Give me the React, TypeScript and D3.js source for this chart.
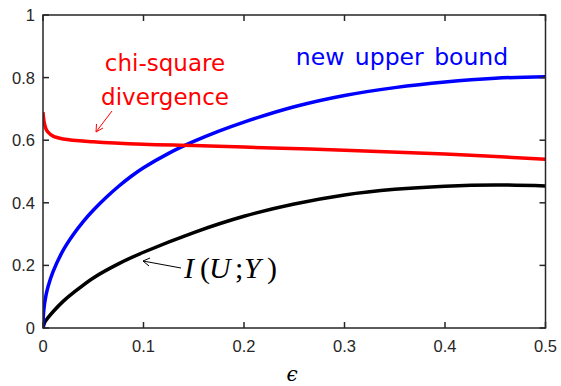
import React from "react";
import * as d3 from "d3";

const W = 561;
const H = 386;

const epsBlack = [0, 0.002, 0.005, 0.01, 0.02, 0.03, 0.05, 0.075, 0.1, 0.15, 0.2, 0.25, 0.3, 0.35, 0.4, 0.45, 0.5];
const mutualInfo = [0, 0.02, 0.033, 0.052, 0.085, 0.112, 0.16, 0.205, 0.242, 0.305, 0.357, 0.396, 0.425, 0.443, 0.453, 0.457, 0.454];

const epsBlue = [0, 0.0002, 0.001, 0.003, 0.005, 0.01, 0.02, 0.03, 0.04, 0.05, 0.0625, 0.075, 0.0875, 0.1, 0.125, 0.15, 0.175, 0.2, 0.25, 0.3, 0.35, 0.4, 0.45, 0.5];
const upperBound = [0, 0.031, 0.064, 0.105, 0.132, 0.18, 0.248, 0.298, 0.34, 0.376, 0.416, 0.452, 0.484, 0.512, 0.558, 0.596, 0.629, 0.658, 0.707, 0.743, 0.768, 0.786, 0.798, 0.803];

const epsRed = [0, 0.0005, 0.0015, 0.003, 0.005, 0.01, 0.02, 0.05, 0.1, 0.15, 0.2, 0.3, 0.4, 0.5];
const chiSquare = [0.69, 0.672, 0.652, 0.636, 0.626, 0.613, 0.604, 0.595, 0.587, 0.583, 0.578, 0.568, 0.556, 0.539];

const xTicks = [0, 0.1, 0.2, 0.3, 0.4, 0.5];
const yTicks = [0, 0.2, 0.4, 0.6, 0.8, 1];

const AX = "#262626";

export default function App() {
  const x = d3.scaleLinear().domain([0, 0.5]).range([43, 545.5]);
  const y = d3.scaleLinear().domain([0, 1]).range([328, 15]);

  const line = (xs: number[], ys: number[]) =>
    d3
      .line<number>()
      .x((_, i) => x(xs[i]))
      .y((d) => y(d))
      .curve(d3.curveCatmullRom.alpha(0.5))(ys) || "";

  const [x0, x1] = x.range();
  const [y0, y1] = y.range();
  const tickLen = 6;
  const tickFont = "'Liberation Sans', Arial, sans-serif";
  const labelFont = "'DejaVu Sans', sans-serif";
  const mathFont = "'Liberation Serif', serif";

  return (
    <svg
      width={W}
      height={H}
      style={{ position: "absolute", left: 0, top: 0, background: "#fff" }}
    >
      <defs>
        <clipPath id="plot">
          <rect x={x0} y={y1} width={x1 - x0} height={y0 - y1} />
        </clipPath>
      </defs>
      <rect x={0} y={0} width={W} height={H} fill="#fff" />

      {/* curves */}
      <g clipPath="url(#plot)" fill="none" strokeWidth={3.5} strokeLinejoin="round">
        <path d={line(epsBlack, mutualInfo)} stroke="#000" />
        <path d={line(epsBlue, upperBound)} stroke="#0000ff" />
        <path d={line(epsRed, chiSquare)} stroke="#ff0000" />
      </g>

      {/* box */}
      <rect x={x0} y={y1} width={x1 - x0} height={y0 - y1} fill="none" stroke={AX} strokeWidth={1.5} />

      {/* ticks */}
      <g stroke={AX} strokeWidth={1.5}>
        {xTicks.map((t) => (
          <g key={"xt" + t}>
            <line x1={x(t)} x2={x(t)} y1={y0} y2={y0 - tickLen} />
            <line x1={x(t)} x2={x(t)} y1={y1} y2={y1 + tickLen} />
          </g>
        ))}
        {yTicks.map((t) => (
          <g key={"yt" + t}>
            <line x1={x0} x2={x0 + tickLen} y1={y(t)} y2={y(t)} />
            <line x1={x1} x2={x1 - tickLen} y1={y(t)} y2={y(t)} />
          </g>
        ))}
      </g>

      {/* tick labels */}
      <g fill={AX} fontFamily={tickFont} fontSize={16.5}>
        {xTicks.map((t) => (
          <text key={"xl" + t} x={x(t)} y={352} textAnchor="middle">
            {d3.format("~g")(t)}
          </text>
        ))}
        {yTicks.map((t) => (
          <text key={"yl" + t} x={35} y={y(t) + 6} textAnchor="end">
            {d3.format("~g")(t)}
          </text>
        ))}
      </g>

      {/* x label */}
      <text x={292} y={381} textAnchor="middle" fontFamily="'DejaVu Serif', serif" fontStyle="italic" fontSize={20} fill="#000">
        ϵ
      </text>

      {/* annotations */}
      <g fontFamily={labelFont}>
        <text x={165} y={71} textAnchor="middle" fill="#ff0000" fontSize={23}>chi-square</text>
        <text x={165} y={105} textAnchor="middle" fill="#ff0000" fontSize={23}>divergence</text>
        <text x={402} y={65} textAnchor="middle" fill="#0000ff" fontSize={23.5} wordSpacing={3}>new upper bound</text>
      </g>

      {/* chi-square arrow */}
      <g stroke="#ff0000" strokeWidth={1} fill="none">
        <line x1={112} y1={111} x2={96} y2={132} />
        <polyline points="96.5,124 96,132 103,128" />
      </g>

      {/* I(U;Y) arrow */}
      <g stroke="#000" strokeWidth={1} fill="none">
        <line x1={181} y1={268} x2={143} y2={261} />
        <polyline points="150,258 143,261 149,266" />
      </g>
      <g fontFamily={mathFont} fontSize={30} fill="#000">
        <text x={184} y={278} fontStyle="italic">I</text>
        <text x={200} y={278}>(</text>
        <text x={209} y={278} fontStyle="italic">U</text>
        <text x={235} y={278}>;</text>
        <text x={244} y={278} fontStyle="italic">Y</text>
        <text x={267} y={278}>)</text>
      </g>
    </svg>
  );
}
